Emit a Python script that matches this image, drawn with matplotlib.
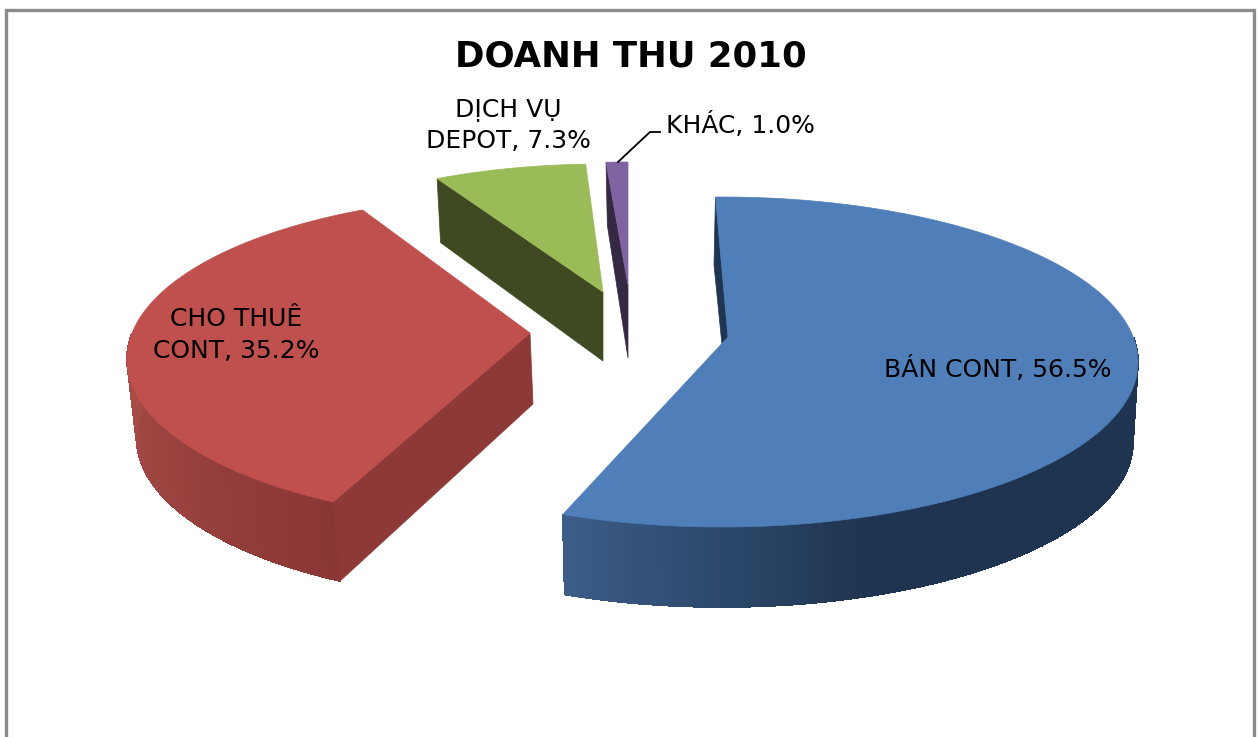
import numpy as np
import matplotlib
matplotlib.use("Agg")
import matplotlib.pyplot as plt
from matplotlib.patches import Polygon
from matplotlib.collections import PolyCollection
from matplotlib.colors import to_rgb

plt.rcParams['font.family'] = ['DejaVu Sans']

title = "DOANH THU 2010"
categories = ["BÁN CONT", "CHO THUÊ\nCONT", "DỊCH VỤ\nDEPOT", "KHÁC"]
shares = [56.5, 35.2, 7.3, 1.0]

top_colors = ["#4f7eb9", "#bf504d", "#9bbb59", "#8064a2"]
wall_colors = ["#1f3552", "#8c3937", "#3f4a22", "#352843"]
side_stops = [
    [(203, "#3c5e88"), (183, "#2d4b6f"), (160, "#1f3450"), (60, "#1f3450")],
    [(209, "#893735"), (270, "#a64b46"), (340, "#a64b46")],
    [(0, "#3f4a22"), (360, "#3f4a22")],
    [(0, "#352843"), (360, "#352843")],
]

# per-slice drawing geometry (exploded position, perspective-corrected ellipse)
start_deg = [-0.9, 209.0, 330.8, -3.6]
ell_top = [(722, 362, 416, 165), (527, 359, 400, 163.5), (603, 279, 340, 115), (628, 277, 350, 115)]
ell_bot = [(722, 442, 411, 165), (531.6, 438, 395, 163.5), (604, 343, 335, 115), (629, 340, 345, 115)]
apex_top = [(728, 337), (530, 333), (603, 292), (628, 285)]
apex_bot = [(722, 345), (533, 404), (603, 361), (628, 358)]

W, H = 1259, 737
fig = plt.figure(figsize=(W / 100, H / 100), dpi=100, facecolor="white")
ax = fig.add_axes([0, 0, 1, 1])
ax.set_xlim(0, W)
ax.set_ylim(H, 0)
ax.axis("off")


def arc(ell, t0, t1, n):
    cx, cy, a, b = ell
    t = np.radians(np.linspace(t0, t1, n))
    return np.column_stack([cx + a * np.sin(t), cy - b * np.cos(t)])


def side_color(stops, t):
    xs = np.array([s[0] for s in stops])
    cs = np.array([to_rgb(s[1]) for s in stops])
    order = np.argsort(xs)
    xs = xs[order]
    cs = cs[order]
    return [np.interp(t, xs, cs[:, i]) for i in range(3)]


# frame (cut off by the lower image edge)
ax.plot([6, 6, 1254, 1254], [H + 5, 10, 10, H + 5], color="#8c8c8c", lw=2.4, solid_joinstyle="miter")

for i in [2, 3, 1, 0]:
    span = shares[i] * 3.6
    t0, t1 = start_deg[i], start_deg[i] + span
    n = max(int(span), 8)
    top = arc(ell_top[i], t0, t1, n)
    bot = arc(ell_bot[i], t0, t1, n)
    # outer curved wall (only the part facing the viewer)
    quads, cols = [], []
    for k in range(n - 1):
        t_mid = t0 + (t1 - t0) * (k + 0.5) / (n - 1)
        if np.cos(np.radians(t_mid)) < 0.15:
            quads.append([top[k], top[k + 1], bot[k + 1], bot[k]])
            cols.append(side_color(side_stops[i], t_mid))
    if i in (0, 1):
        ax.add_collection(PolyCollection(quads, facecolors=cols, edgecolors=cols, linewidths=0.6,
                                         antialiaseds=False, zorder=2))
    # flat cut wall
    if i == 0:
        wall = [top[0], (714, 265), apex_bot[0], apex_top[0]]
    elif i == 1:
        wall = [apex_top[1], apex_bot[1], bot[0], top[0]]
    else:
        wall = [top[0], apex_top[i], apex_bot[i], bot[0]]
    ax.add_patch(Polygon(wall, closed=True, facecolor=wall_colors[i], edgecolor=wall_colors[i], lw=0.5, zorder=2.5))
    # top surface
    ax.add_patch(Polygon(np.vstack([[apex_top[i]], top]), closed=True, facecolor=top_colors[i], edgecolor=top_colors[i], lw=0.5, zorder=3))

ax.text(631, 56, title, fontsize=25.6, fontweight="bold", ha="center", va="center", color="black", zorder=5)

label_pos = [(998, 369), (236, 335), (508, 125), (740, 125)]
for cat, val, (x, y) in zip(categories, shares, label_pos):
    ax.text(x, y, f"{cat}, {val:.1f}%", fontsize=18, ha="center", va="center", color="black",
            linespacing=1.4, zorder=5)

ax.plot([618, 650, 660], [162, 132, 132], color="black", lw=1.3, zorder=4)

fig.savefig("out.png", dpi=100, facecolor="white")
